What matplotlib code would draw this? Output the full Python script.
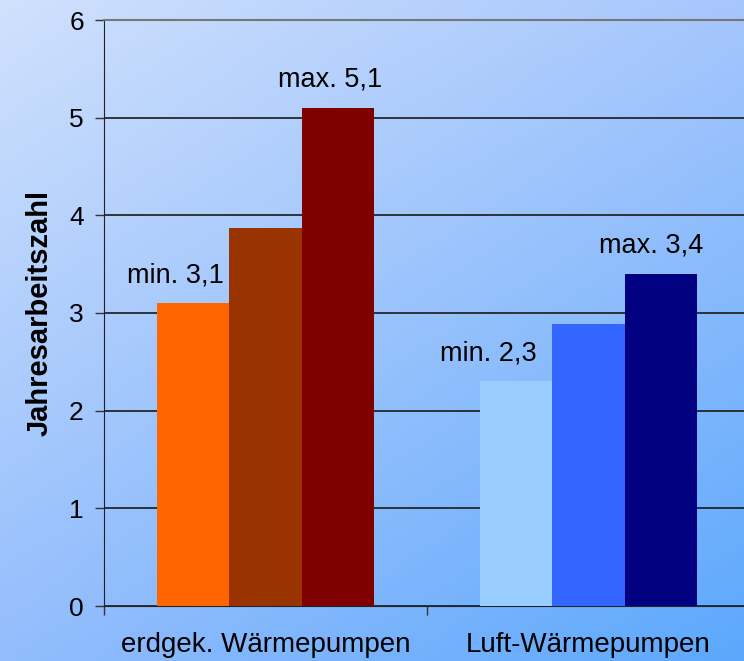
import numpy as np
import matplotlib.pyplot as plt

plt.rcParams['font.family'] = ['Liberation Sans', 'DejaVu Sans']

# Data
categories = ['erdgek. Wärmepumpen', 'Luft-Wärmepumpen']
erd_values = [3.1, 3.87, 5.1]
luft_values = [2.3, 2.89, 3.4]
erd_colors = ['#ff6600', '#993300', '#800000']
luft_colors = ['#99ccff', '#3366ff', '#000080']
labels = ['min. 3,1', 'max. 5,1', 'min. 2,3', 'max. 3,4']

fig = plt.figure(figsize=(7.44, 6.61), dpi=100)

# gradient background over the whole figure
bg = fig.add_axes([0, 0, 1, 1], zorder=-10)
nx, ny = 200, 200
tx = np.linspace(0, 1, nx)[None, :, None]
ty = np.linspace(0, 1, ny)[:, None, None]
tl = np.array([208, 225, 252]) / 255
tr = np.array([166, 198, 252]) / 255
bl = np.array([147, 189, 253]) / 255
br = np.array([92, 168, 252]) / 255
img = (1 - ty) * ((1 - tx) * tl + tx * tr) + ty * ((1 - tx) * bl + tx * br)
bg.imshow(img, aspect='auto', extent=[0, 1, 0, 1], origin='upper')
bg.axis('off')

ax = fig.add_axes([104 / 744, 55 / 661, 646 / 744, 586 / 661])
ax.patch.set_alpha(0)

width = 0.2245
offsets = np.array([-1, 0, 1]) * width
x = np.arange(len(categories))

ax.bar(x[0] + offsets, erd_values, width=width, color=erd_colors, zorder=3)
ax.bar(x[1] + offsets, luft_values, width=width, color=luft_colors, zorder=3)

# annotations for min / max
ann = [
    (x[0] + offsets[0], erd_values[0], labels[0], -18),
    (x[0] + offsets[2], erd_values[2], labels[1], -8),
    (x[1] + offsets[0], luft_values[0], labels[2], -28),
    (x[1] + offsets[2], luft_values[2], labels[3], -10),
]
for xx, yy, txt, dx in ann:
    ax.annotate(txt, xy=(xx, yy), xytext=(dx, 28), textcoords='offset pixels',
                ha='center', va='center', fontsize=19.5, color='black')

ax.set_xlim(-0.5, 1.5)
ax.set_ylim(0, 6)
ax.set_yticks(range(7))
ax.yaxis.grid(True, color='#1a1a1a', linewidth=1.2, zorder=0)
ax.set_axisbelow(True)

ax.set_xticks([-0.5, 0.5, 1.5])
ax.set_xticklabels([])
ax.set_xticks(x, minor=True)
ax.set_xticklabels(categories, minor=True, fontsize=20)
ax.tick_params(axis='x', which='major', length=6.5, width=1, color='#333333')
ax.tick_params(axis='x', which='minor', length=0, pad=19)
ax.tick_params(axis='y', length=6.5, width=1, labelsize=19, pad=8, color='#333333')

ax.spines['right'].set_visible(False)
ax.spines['top'].set_color('#777777')
ax.spines['top'].set_linewidth(1.5)
ax.spines['left'].set_color('#222222')
ax.spines['bottom'].set_color('#222222')

ax.set_ylabel('Jahresarbeitszahl', fontsize=21, fontweight='bold', labelpad=11)

fig.savefig('out.png', dpi=100)
